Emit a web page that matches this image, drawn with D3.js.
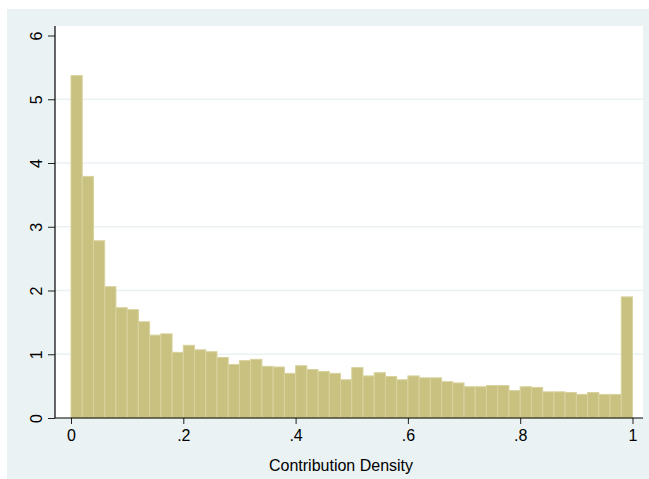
<!DOCTYPE html>
<html>
<head>
<meta charset="utf-8">
<script src="https://cdn.jsdelivr.net/npm/d3@7"></script>
<style>
  body { margin: 0; background: #fff; }
  text { font-family: "Liberation Sans", Arial, sans-serif; fill: #000; }
</style>
</head>
<body>
<svg id="chart" width="649" height="479"></svg>
<script>
// histogram of contribution density, 50 bins of width .02
var binWidth = 0.02;
var densities = [
    5.37, 3.79, 2.78, 2.06, 1.73, 1.70, 1.51, 1.30, 1.32, 1.03,
    1.14, 1.07, 1.04, 0.95, 0.84, 0.90, 0.92, 0.81, 0.80, 0.70,
    0.82, 0.76, 0.73, 0.70, 0.60, 0.79, 0.66, 0.71, 0.65, 0.60,
    0.66, 0.63, 0.63, 0.57, 0.55, 0.49, 0.49, 0.51, 0.51, 0.43,
    0.49, 0.48, 0.41, 0.41, 0.40, 0.37, 0.40, 0.37, 0.37, 1.90
];
var xTicks = [0, 0.2, 0.4, 0.6, 0.8, 1];
var xTickLabels = ["0", ".2", ".4", ".6", ".8", "1"];
var yTicks = [0, 1, 2, 3, 4, 5, 6];
var xTitle = "Contribution Density";

var svg = d3.select("#chart");

// outer (graph) region
svg.append("rect")
    .attr("x", 7).attr("y", 9)
    .attr("width", 642).attr("height", 470)
    .attr("fill", "#eaf2f3");

// plot region
var plotL = 55, plotR = 643, plotT = 26, plotB = 418;
svg.append("rect")
    .attr("x", plotL).attr("y", plotT)
    .attr("width", plotR - plotL).attr("height", plotB - plotT)
    .attr("fill", "#ffffff");

var x = d3.scaleLinear().domain([0, 1]).range([71, 632.5]);
var y = d3.scaleLinear().domain([0, 6]).range([418, 35.5]);

// gridlines
svg.append("g").selectAll("line")
    .data(yTicks.filter(function(d){ return d > 0 && d < 6; }))
    .enter().append("line")
    .attr("x1", plotL).attr("x2", plotR)
    .attr("y1", function(d){ return y(d); })
    .attr("y2", function(d){ return y(d); })
    .attr("stroke", "#eaf2f3")
    .attr("stroke-width", 1.5);

// bars
svg.append("g").selectAll("rect")
    .data(densities)
    .enter().append("rect")
    .attr("x", function(d, i){ return x(i * binWidth); })
    .attr("width", function(d, i){ return x((i + 1) * binWidth) - x(i * binWidth); })
    .attr("y", function(d){ return y(d); })
    .attr("height", function(d){ return y(0) - y(d); })
    .attr("fill", "#c9c17f")
    .attr("stroke", "#d8d29e")
    .attr("stroke-width", 1);

// x axis
var xAxis = d3.axisBottom(x)
    .tickValues(xTicks)
    .tickSize(6)
    .tickPadding(6)
    .tickFormat(function(d, i){ return xTickLabels[i]; });
var gx = svg.append("g")
    .attr("transform", "translate(0," + plotB + ")")
    .call(xAxis);
gx.select(".domain").remove();
gx.append("line")
    .attr("x1", plotL).attr("x2", plotR)
    .attr("y1", 0).attr("y2", 0)
    .attr("stroke", "#000").attr("stroke-width", 1.2);
gx.selectAll(".tick line").attr("stroke", "#222");
gx.selectAll(".tick text")
    .attr("font-size", 16)
    .attr("fill", "#000");

// y axis
var yAxis = d3.axisLeft(y)
    .tickValues(yTicks)
    .tickSize(7)
    .tickFormat(d3.format("d"));
var gy = svg.append("g")
    .attr("transform", "translate(" + plotL + ",0)")
    .call(yAxis);
gy.select(".domain").remove();
gy.append("line")
    .attr("x1", 0).attr("x2", 0)
    .attr("y1", plotT).attr("y2", plotB)
    .attr("stroke", "#000").attr("stroke-width", 1.2);
gy.selectAll(".tick line").attr("stroke", "#222");
gy.selectAll(".tick text")
    .attr("font-size", 16)
    .attr("fill", "#000")
    .attr("x", null).attr("dy", null)
    .attr("text-anchor", "middle")
    .attr("transform", "translate(-13,0) rotate(-90)");

// axis title
svg.append("text")
    .attr("x", 341).attr("y", 471)
    .attr("text-anchor", "middle")
    .attr("font-size", 16)
    .text(xTitle);
</script>
</body>
</html>
